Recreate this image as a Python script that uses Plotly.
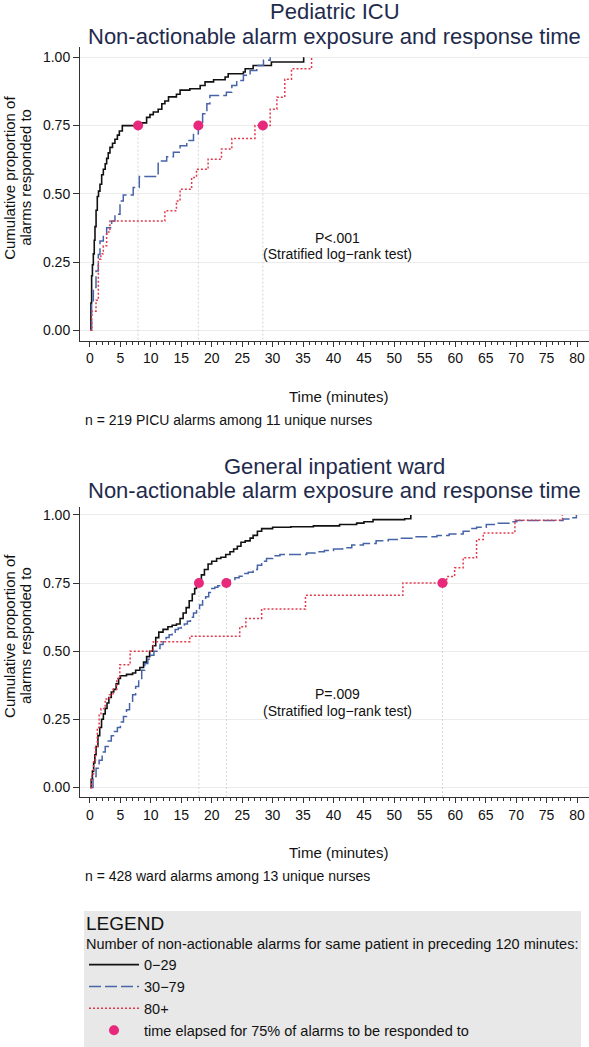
import plotly.graph_objects as go

# ---------------- data ----------------
groups = ["0\u221229", "30\u221279", "80+"]

# Pediatric ICU (time in minutes, cumulative proportion responded to)
picu_t_g1 = [0, 0.15, 0.27, 0.4, 0.55, 0.7, 0.82, 1.0, 1.2, 1.4, 1.64, 1.92, 2.19, 2.5, 2.74, 3.0, 3.28, 3.7, 4.1, 4.5, 4.82, 5.31, 8.5, 9.3, 9.85, 10.4, 11.2, 11.8, 12.3, 12.9, 14.2, 14.8, 16.4, 18.1, 18.9, 20.3, 22.2, 22.7, 25.2, 25.5, 26.8, 29.8, 35.1]
picu_p_g1 = [0, 0.10, 0.20, 0.24, 0.28, 0.33, 0.38, 0.44, 0.49, 0.51, 0.535, 0.57, 0.59, 0.61, 0.63, 0.65, 0.67, 0.685, 0.70, 0.715, 0.73, 0.75, 0.76, 0.78, 0.79, 0.80, 0.81, 0.83, 0.84, 0.855, 0.865, 0.88, 0.885, 0.897, 0.91, 0.918, 0.928, 0.94, 0.946, 0.958, 0.97, 0.983, 1.0]
picu_t_g2 = [0, 0.27, 0.55, 0.99, 1.37, 1.64, 2.19, 2.74, 3.56, 4.1, 4.93, 5.47, 7.1, 8.1, 11.2, 12.6, 13.7, 14.8, 15.9, 17.0, 17.8, 18.5, 19.2, 19.7, 22.4, 23.3, 24.1, 25.2, 26.3, 27.4, 28.5, 29.6]
picu_p_g2 = [0, 0.108, 0.157, 0.217, 0.278, 0.327, 0.352, 0.376, 0.40, 0.425, 0.474, 0.496, 0.523, 0.563, 0.62, 0.636, 0.652, 0.676, 0.695, 0.72, 0.75, 0.793, 0.83, 0.86, 0.872, 0.897, 0.915, 0.934, 0.952, 0.97, 0.989, 1.0]
picu_t_g3 = [0, 0.3, 0.99, 1.37, 1.8, 2.19, 2.74, 3.28, 12.3, 14.2, 14.8, 16.7, 17.5, 19.4, 21.6, 23.3, 27.1, 29.6, 30.7, 32.0, 33.1, 36.4]
picu_p_g3 = [0, 0.07, 0.11, 0.26, 0.28, 0.31, 0.36, 0.40, 0.438, 0.474, 0.517, 0.56, 0.59, 0.627, 0.664, 0.703, 0.75, 0.81, 0.854, 0.92, 0.958, 1.0]

# General inpatient ward
ward_t_g1 = [0, 0.2, 0.4, 0.6, 0.8, 1.0, 1.3, 1.6, 1.9, 2.2, 2.5, 2.8, 3.1, 3.5, 3.9, 4.3, 4.7, 5.0, 6.0, 7.0, 7.5, 8.2, 8.8, 9.3, 9.8, 10.3, 10.8, 11.3, 12.0, 12.8, 13.5, 14.2, 14.8, 15.3, 15.8, 16.3, 16.8, 17.2, 17.5, 17.9, 18.3, 18.8, 19.4, 20.0, 20.8, 21.5, 22.3, 23.0, 23.6, 24.2, 24.8, 25.5, 26.3, 26.8, 27.5, 28.2, 30.0, 33.0, 36.7, 41.0, 43.8, 45.0, 46.5, 51.7, 52.7]
ward_p_g1 = [0, 0.03, 0.06, 0.09, 0.12, 0.15, 0.19, 0.22, 0.25, 0.27, 0.29, 0.31, 0.33, 0.35, 0.36, 0.38, 0.40, 0.41, 0.415, 0.42, 0.43, 0.44, 0.46, 0.48, 0.50, 0.52, 0.55, 0.57, 0.58, 0.59, 0.595, 0.60, 0.62, 0.64, 0.66, 0.685, 0.71, 0.73, 0.745, 0.76, 0.78, 0.80, 0.82, 0.83, 0.84, 0.845, 0.855, 0.865, 0.875, 0.885, 0.90, 0.905, 0.915, 0.925, 0.94, 0.95, 0.955, 0.957, 0.96, 0.965, 0.97, 0.975, 0.983, 0.986, 1.0]
ward_t_g2 = [0, 0.5, 1.0, 1.5, 2.0, 2.5, 3.0, 3.5, 4.0, 4.5, 5.0, 5.5, 6.0, 6.5, 7.0, 7.5, 8.0, 8.5, 9.0, 9.5, 10.0, 10.5, 11.0, 11.5, 12.0, 12.5, 13.0, 13.5, 14.0, 14.5, 15.0, 15.5, 16.0, 16.5, 17.0, 17.5, 18.0, 18.5, 19.0, 19.5, 20.0, 20.5, 21.0, 21.5, 22.3, 23.0, 23.8, 24.5, 25.3, 26.0, 26.8, 27.5, 28.2, 29.0, 30.0, 31.2, 35.6, 37.0, 38.5, 40.0, 41.5, 43.0, 44.9, 47.0, 49.0, 51.0, 53.1, 57.0, 59.0, 61.3, 62.5, 63.5, 65.1, 67.0, 69.0, 70.1, 77.7, 78.8, 79.9]
ward_p_g2 = [0, 0.04, 0.07, 0.10, 0.13, 0.15, 0.17, 0.19, 0.205, 0.22, 0.24, 0.26, 0.285, 0.31, 0.34, 0.37, 0.40, 0.43, 0.455, 0.47, 0.485, 0.50, 0.51, 0.525, 0.535, 0.55, 0.56, 0.57, 0.58, 0.585, 0.59, 0.60, 0.61, 0.625, 0.64, 0.655, 0.67, 0.685, 0.70, 0.715, 0.73, 0.735, 0.74, 0.745, 0.75, 0.76, 0.77, 0.775, 0.785, 0.79, 0.80, 0.815, 0.83, 0.84, 0.85, 0.855, 0.86, 0.865, 0.87, 0.875, 0.88, 0.89, 0.895, 0.905, 0.91, 0.915, 0.92, 0.925, 0.93, 0.94, 0.95, 0.955, 0.965, 0.97, 0.975, 0.98, 0.985, 0.99, 1.0]
ward_t_g3 = [0, 0.3, 0.6, 0.9, 1.2, 1.5, 1.8, 2.5, 3.2, 3.8, 4.4, 4.9, 6.6, 10.4, 16.4, 24.6, 25.6, 28.2, 35.4, 51.4, 58.6, 59.9, 61.3, 63.5, 64.6, 69.8, 77.6]
ward_p_g3 = [0, 0.05, 0.10, 0.15, 0.22, 0.27, 0.29, 0.325, 0.34, 0.36, 0.40, 0.45, 0.50, 0.535, 0.555, 0.59, 0.62, 0.655, 0.705, 0.75, 0.774, 0.806, 0.843, 0.91, 0.934, 0.981, 1.0]

# time elapsed for 75% of alarms to be responded to
picu_t75 = [7.9, 17.8, 28.4]
ward_t75 = [17.9, 22.4, 57.9]
p75 = 0.75

y_ticks = [0, 0.25, 0.5, 0.75, 1.0]
x_ticks = list(range(0, 81, 5))
x_minor = list(range(0, 81, 1))

# ---------------- styles ----------------
FONT = "Arial, 'Liberation Sans', Helvetica, sans-serif"
colors = ["#111111", "#4764a8", "#e23a4c"]
dashes = ["solid", "12px,4px", "2px,2px"]
widths = [1.6, 1.5, 1.5]
marker_color = "#e8287a"
title_color = "#1f2b4c"
W, H = 589, 1047

fig = go.Figure()

panels = [
    ("x", "y", [(picu_t_g1, picu_p_g1), (picu_t_g2, picu_p_g2), (picu_t_g3, picu_p_g3)], picu_t75, True),
    ("x2", "y2", [(ward_t_g1, ward_p_g1), (ward_t_g2, ward_p_g2), (ward_t_g3, ward_p_g3)], ward_t75, False),
]
YMIN = [-0.038, -0.036]
for pi, (xa, ya, series, t75, show) in enumerate(panels):
    # vertical reference lines from 75% points to the axis
    for t in t75:
        fig.add_trace(go.Scatter(x=[t, t], y=[p75, YMIN[pi]], mode="lines", xaxis=xa, yaxis=ya,
                                 line=dict(color="#d4d4d4", width=1, dash="2px,2px"),
                                 showlegend=False, hoverinfo="skip"))
    for gi, (tt, pp) in enumerate(series):
        fig.add_trace(go.Scatter(x=tt, y=pp, mode="lines", xaxis=xa, yaxis=ya, name=groups[gi],
                                 line=dict(color=colors[gi], width=widths[gi], dash=dashes[gi], shape="hv"),
                                 showlegend=show, legendrank=gi + 1))
    fig.add_trace(go.Scatter(x=t75, y=[p75] * len(t75), mode="markers", xaxis=xa, yaxis=ya,
                             name="time elapsed for 75% of alarms to be responded to",
                             marker=dict(color=marker_color, size=10), showlegend=show, legendrank=10))

def xaxis_cfg(domain_anchor):
    return dict(domain=[80 / W, 1.0], range=[-1.64, 81.97], anchor=domain_anchor,
                tickmode="array", tickvals=x_ticks, ticktext=[str(v) for v in x_ticks],
                ticks="outside", ticklen=5, tickwidth=1, tickcolor="#333333",
                minor=dict(tickmode="array", tickvals=x_minor, ticks="outside", ticklen=3,
                           tickwidth=1, tickcolor="#333333", showgrid=False),
                showline=True, linecolor="#333333", linewidth=1, showgrid=False, zeroline=False,
                tickfont=dict(family=FONT, size=14, color="#111111"))

def yaxis_cfg(domain, rng, anchor):
    return dict(domain=domain, range=rng, anchor=anchor,
                tickmode="array", tickvals=y_ticks, ticktext=["%.2f" % v for v in y_ticks],
                ticks="outside", ticklen=6, tickwidth=1, tickcolor="#333333",
                showline=True, linecolor="#333333", linewidth=1,
                showgrid=True, gridcolor="#ebebeb", gridwidth=1, zeroline=False,
                tickfont=dict(family=FONT, size=14, color="#111111"))

fig.update_layout(
    width=W, height=H, margin=dict(l=0, r=0, t=0, b=0),
    paper_bgcolor="white", plot_bgcolor="white",
    font=dict(family=FONT, size=14, color="#111111"),
    xaxis=xaxis_cfg("y"),
    yaxis=yaxis_cfg([1 - 341 / H, 1 - 47 / H], [-0.038, 1.038], "x"),
    xaxis2=xaxis_cfg("y2"),
    yaxis2=yaxis_cfg([1 - 798 / H, 1 - 507 / H], [-0.036, 1.031], "x2"),
    legend=dict(x=84 / W, y=1 - 912 / H, xanchor="left", yanchor="top",
                bgcolor="#e8e8e8", borderwidth=0,
                title=dict(text='<span style="font-size:19px">LEGEND</span><br>Number of non-actionable alarms for same patient in preceding 120 minutes:',
                           font=dict(family=FONT, size=14.5, color="#111111"), side="top"),
                font=dict(family=FONT, size=14.5, color="#111111"),
                itemwidth=50, tracegroupgap=0),
    showlegend=True,
)

def ann(text, x, y, size, color="#111111", xref="paper", yref="paper", xanchor="center", angle=0):
    fig.add_annotation(text=text, x=x, y=y, xref=xref, yref=yref, showarrow=False,
                       xanchor=xanchor, yanchor="middle", textangle=angle,
                       font=dict(family=FONT, size=size, color=color))

def py(pix):
    return 1 - pix / H

cx = (80 + W) / 2 / W
# titles
ann("Pediatric ICU", cx, py(12), 22, title_color)
ann("Non-actionable alarm exposure and response time", cx, py(37), 22, title_color)
ann("General inpatient ward", cx, py(467), 22, title_color)
ann("Non-actionable alarm exposure and response time", cx, py(491), 22, title_color)

# y-axis titles
for top, bot in [(47, 341), (507, 798)]:
    yc = py((top + bot) / 2 - 16)
    ann("Cumulative proportion of", 10 / W, yc, 15, angle=-90)
    ann("alarms responded to", 26 / W, yc, 15, angle=-90)

# x-axis titles and notes
ann("Time (minutes)", 338 / W, py(397), 15)
ann("n = 219 PICU alarms among 11 unique nurses", 83 / W, py(420), 14, xanchor="left")
ann("Time (minutes)", 338 / W, py(853), 15)
ann("n = 428 ward alarms among 13 unique nurses", 83 / W, py(877), 14, xanchor="left")

# test results
ann("P<.001", 40.6, 0.339, 14, xref="x", yref="y")
ann("(Stratified log\u2212rank test)", 40.6, 0.278, 14, xref="x", yref="y")
ann("P=.009", 40.6, 0.342, 14, xref="x2", yref="y2")
ann("(Stratified log\u2212rank test)", 40.6, 0.281, 14, xref="x2", yref="y2")

fig.write_html("out.html", config={"displayModeBar": False},
               post_script="document.body.style.margin='0';document.body.style.overflow='hidden';")
